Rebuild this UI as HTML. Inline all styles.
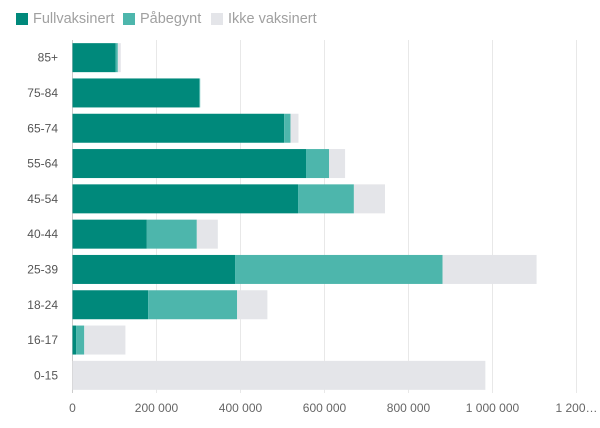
<!DOCTYPE html>
<html><head><meta charset="utf-8"><style>
body{margin:0;background:#fff;width:600px;height:428px;overflow:hidden;font-family:"Liberation Sans",sans-serif}
.lg{position:absolute;top:11px;font-size:14.5px;line-height:16px;color:#a0a0a0;display:flex;align-items:center;white-space:nowrap}
.sw{width:12px;height:12px;margin-right:5px}
</style></head><body>
<svg id="chart" width="600" height="428" style="position:absolute;left:0;top:0"></svg>
<div class="lg" style="left:16px"><div class="sw" style="background:#00897b"></div>Fullvaksinert</div>
<div class="lg" style="left:123px"><div class="sw" style="background:#4db6ac"></div>Påbegynt</div>
<div class="lg" style="left:211px"><div class="sw" style="background:#e4e5e9"></div>Ikke vaksinert</div>
<script>
const categories=["85+","75-84","65-74","55-64","45-54","40-44","25-39","18-24","16-17","0-15"];
const fullvaksinert=[103000,302000,504000,556000,537000,177000,387000,180000,9000,0];
const pabegynt=[5000,2000,15000,55000,133000,119000,494000,212000,19000,0];
const ikkeVaksinert=[7000,0,19000,38000,74000,50000,224000,72000,98000,983000];
const ticks=[0,200000,400000,600000,800000,1000000,1200000];
const tickLabels=["0","200 000","400 000","600 000","800 000","1 000 000","1 200…"];
const NS="http://www.w3.org/2000/svg",svg=document.getElementById("chart");
const x0=72.5,pxPer=84/200000,top0=40,step=35.3,bh=29;
const X=v=>x0+v*pxPer;
const Yc=i=>top0+step*i+step/2;
function mk(t,a){const e=document.createElementNS(NS,t);for(const k in a)e.setAttribute(k,a[k]);svg.appendChild(e);return e;}
ticks.forEach((t,i)=>{
 const l=mk("line",{x1:X(t),x2:X(t),y1:top0,y2:393,stroke:i==0?"#ccc":"#e8e8e8","stroke-width":1});
 
 
 const tx=mk("text",{x:X(t),y:412,"font-size":12,fill:"#666","text-anchor":"middle"});
 tx.textContent=tickLabels[i];
 
 
});
categories.forEach((c,i)=>{
 const cy=Yc(i);
 const lb=mk("text",{x:58,y:cy+4,"font-size":12,fill:"#555","text-anchor":"end"});
 lb.textContent=c;
 
 
 let acc=0;
 [[fullvaksinert,"#00897b","full"],[pabegynt,"#4db6ac","pabegynt"],[ikkeVaksinert,"#e4e5e9","ikke"]].forEach(([arr,col,n])=>{
  const v=arr[i];if(!v)return;
  const r=mk("rect",{x:X(acc),y:cy-bh/2,width:X(acc+v)-X(acc),height:bh,fill:col});
  
  
  acc+=v;
 });
});
</script>
</body></html>
